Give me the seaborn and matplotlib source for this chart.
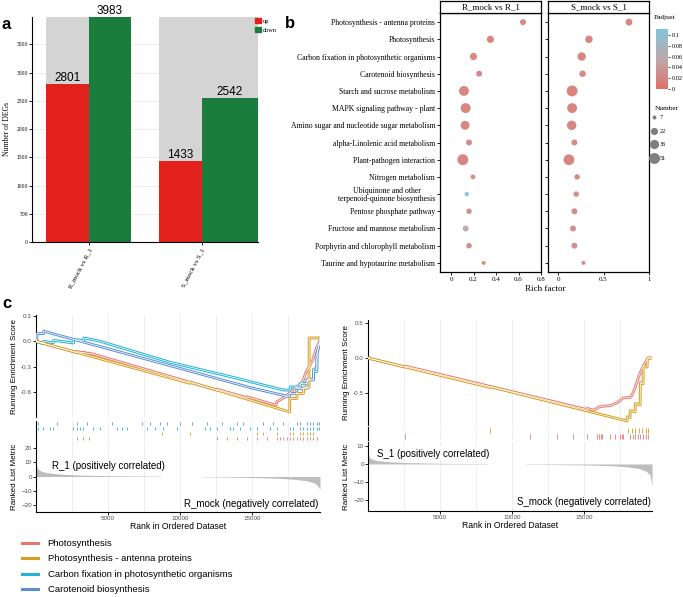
import numpy as np
import pandas as pd
import matplotlib
matplotlib.use("Agg")
import matplotlib.pyplot as plt
import seaborn as sns
from matplotlib.colors import LinearSegmentedColormap, Normalize
from matplotlib.cm import ScalarMappable
from matplotlib.patches import Patch
from matplotlib.lines import Line2D

# ---------------- data ----------------
deg_groups = ["R_mock vs R_1", "S_mock vs S_1"]
deg_up = [2801, 1433]
deg_down = [3983, 2542]

pathways = ["Photosynthesis - antenna proteins", "Photosynthesis",
            "Carbon fixation in photosynthetic organisms", "Carotenoid biosynthesis",
            "Starch and sucrose metabolism", "MAPK signaling pathway - plant",
            "Amino sugar and nucleotide sugar metabolism", "alpha-Linolenic acid metabolism",
            "Plant-pathogen interaction", "Nitrogen metabolism",
            "Ubiquinone and other\nterpenoid-quinone biosynthesis", "Pentose phosphate pathway",
            "Fructose and mannose metabolism", "Porphyrin and chlorophyll metabolism",
            "Taurine and hypotaurine metabolism"]
rich_R = [0.64, 0.35, 0.20, 0.25, 0.115, 0.13, 0.125, 0.16, 0.105, 0.195, 0.14, 0.16, 0.13, 0.16, 0.29]
rich_S = [0.78, 0.34, 0.26, 0.27, 0.155, 0.155, 0.15, 0.18, 0.12, 0.21, 0.20, 0.18, 0.165, 0.18, 0.28]
num_R = [15, 22, 22, 15, 42, 42, 34, 15, 51, 10, 8, 13, 15, 13, 6]
num_S = [20, 24, 30, 18, 51, 42, 38, 15, 50, 13, 13, 15, 15, 15, 6]
padj_R = [0.018, 0.015, 0.018, 0.02, 0.016, 0.015, 0.017, 0.022, 0.015, 0.024, 0.1, 0.026, 0.055, 0.025, 0.024]
padj_S = [0.016, 0.014, 0.015, 0.018, 0.013, 0.014, 0.014, 0.02, 0.015, 0.022, 0.024, 0.022, 0.026, 0.024, 0.022]
facet_titles = ["R_mock vs R_1", "S_mock vs S_1"]
number_levels = [7, 22, 36, 51]

gsea_names = ["Photosynthesis", "Photosynthesis - antenna proteins",
              "Carbon fixation in photosynthetic organisms", "Carotenoid biosynthesis"]
gsea_colors = ["#E8766F", "#D59E1C", "#22B2D6", "#5C8FD2"]
N_GENES = 19700

# left comparison (R_mock vs R_1): running enrichment score waypoints
L_photo_rank = [0, 2820, 2830, 3280, 3290, 3700, 3710, 12540, 12550, 14620, 14630, 16650, 16700, 17300, 17900, 18500, 18700, 19200, 19450, 19700]
L_photo_es = [0, -0.135, -0.12, -0.14, -0.13, -0.15, -0.14, -0.58, -0.57, -0.67, -0.66, -0.76, -0.72, -0.66, -0.57, -0.48, -0.38, -0.22, -0.08, 0]
L_ant_rank = [0, 10690, 10700, 17600, 17610, 18100, 18110, 18550, 18560, 18940, 18950, 19650, 19700]
L_ant_es = [0, -0.50, -0.485, -0.84, -0.68, -0.68, -0.62, -0.62, -0.55, -0.55, 0.04, 0.04, 0]
L_carb_rank = [0, 500, 520, 1200, 1220, 2600, 2620, 3300, 3320, 4450, 9300, 13700, 15300, 16700, 17200, 17640, 17650, 18330, 18340, 18800, 18810, 19250, 19260, 19480, 19490, 19700]
L_carb_es = [0, -0.03, 0.0, -0.02, 0.01, -0.02, 0.02, 0.01, 0.04, 0.0, -0.25, -0.43, -0.50, -0.56, -0.58, -0.58, -0.54, -0.55, -0.50, -0.50, -0.45, -0.45, -0.36, -0.36, -0.15, 0]
L_caro_rank = [0, 60, 70, 520, 530, 9300, 14850, 17600, 17610, 18090, 18100, 18790, 18800, 19250, 19260, 19480, 19490, 19700]
L_caro_es = [0, 0, 0.09, 0.09, 0.12, -0.29, -0.55, -0.66, -0.62, -0.62, -0.56, -0.56, -0.46, -0.46, -0.33, -0.33, -0.15, 0]

# right comparison (S_mock vs S_1)
S_photo_rank = [0, 2560, 2570, 15060, 15200, 15210, 15615, 15900, 16000, 16310, 16800, 17280, 17700, 18200, 18390, 18880, 19220, 19430, 19700]
S_photo_es = [0, -0.128, -0.115, -0.73, -0.74, -0.72, -0.745, -0.72, -0.70, -0.69, -0.68, -0.64, -0.57, -0.56, -0.50, -0.21, -0.07, 0.0, 0.0]
S_ant_rank = [0, 8460, 8470, 17975, 17985, 18180, 18190, 18530, 18540, 18880, 18890, 19085, 19095, 19360, 19370, 19430, 19700]
S_ant_es = [0, -0.42, -0.41, -0.90, -0.84, -0.85, -0.75, -0.77, -0.65, -0.67, -0.35, -0.37, -0.12, -0.13, -0.03, 0.0, 0.0]

# hit positions (rug)
L_hits_caro = [162, 1434, 2822, 3517, 5252, 7334, 7912, 8606, 9069, 9994, 10804, 11845, 12886, 13927, 14390, 15778, 16472, 17166, 18091, 18322, 18785, 19016, 19248, 19479, 19650]
L_hits_carb = [162, 509, 972, 1203, 2591, 2822, 3054, 3285, 3980, 4442, 5599, 5946, 6293, 7681, 8259, 8837, 9763, 11730, 12076, 12539, 13464, 13696, 14158, 14852, 15315, 16240, 16703, 17628, 17860, 18322, 18554, 18785, 19016, 19248, 19479, 19650]
L_hits_ant = [8721, 10688, 15315, 15778, 16703, 17628, 17860, 18322, 18554, 18785, 19016, 19248]
L_hits_photo = [2822, 3285, 3700, 12539, 13233, 13927, 14621, 15315, 16009, 16703, 16935, 17166, 17397, 17628, 17860, 18091, 18322, 18554, 18785, 19016, 19248, 19479]
S_hits_ant = [8467, 18040, 18280, 18530, 18780, 19030, 19250, 19430]
S_hits_photo = [2568, 11243, 13117, 14227, 15199, 15893, 16010, 16130, 16240, 16794, 17141, 17490, 17600, 17700, 18180, 18350, 18530, 18700, 18880, 19050, 19250, 19430]

# ranked list metric
L_metric_rank = [0, 100, 300, 700, 1500, 3000, 5000, 7000, 8700, 8710, 11500, 11510, 13500, 15500, 17000, 18000, 18800, 19300, 19550, 19700]
L_metric_val = [9, 5.5, 4, 2.8, 1.8, 1.0, 0.6, 0.35, 0.2, 0, 0, -0.2, -0.45, -0.8, -1.3, -2.0, -3.0, -4.5, -6.5, -9]
S_metric_rank = [0, 100, 300, 700, 1500, 3000, 5500, 8300, 8310, 10900, 10910, 13500, 15500, 17000, 18000, 18800, 19300, 19550, 19700]
S_metric_val = [5, 3.5, 2.6, 1.8, 1.2, 0.7, 0.35, 0.15, 0, 0, -0.15, -0.35, -0.6, -1.0, -1.6, -2.5, -4, -6, -12]

# ---------------- figure ----------------
W, H = 683, 597
fig = plt.figure(figsize=(W / 100, H / 100), dpi=100)
SERIF = "Liberation Serif"
SANS = "Liberation Sans"


def add_ax(x0, y0, x1, y1):
    return fig.add_axes([x0 / W, 1 - y1 / H, (x1 - x0) / W, (y1 - y0) / H])


def ftext(x, y, s, **kw):
    return fig.text(x / W, 1 - y / H, s, **kw)


# ---------- panel a ----------
axa = add_ax(32, 17, 258, 242)
ymax = max(deg_up + deg_down)
bg_left = [-0.376, 0.625]
bg_w = [0.748, 0.875]
up_w = [0.376, 0.375]
down_left = [0, 1]
down_w = [0.372, 0.5]
axa.bar(bg_left, [ymax] * 2, width=bg_w, align="edge", color="#d4d4d4", zorder=1)
axa.bar(bg_left, deg_up, width=up_w, align="edge", color="#E2211C", zorder=2)
axa.bar(down_left, deg_down, width=down_w, align="edge", color="#1B7D3D", zorder=2)
for i in range(2):
    axa.text(bg_left[i] + up_w[i] / 2, deg_up[i], str(deg_up[i]), ha="center", va="bottom",
             fontsize=8.5, family=SANS, clip_on=False)
    axa.text(down_left[i] + down_w[i] / 2, deg_down[i], str(deg_down[i]), ha="center", va="bottom",
             fontsize=8.5, family=SANS, clip_on=False)
axa.set_xlim(-0.5, 1.5)
axa.set_ylim(0, ymax)
axa.set_yticks(range(0, 4000, 500))
axa.yaxis.grid(True, color="#e4e4e4", lw=0.5)
axa.set_axisbelow(True)
axa.set_xticks([0, 1])
axa.set_xticklabels(deg_groups, rotation=62, ha="right", va="top", rotation_mode="anchor",
                    fontsize=5, family=SERIF)
for lab in axa.get_yticklabels():
    lab.set_family(SERIF)
axa.tick_params(axis="y", labelsize=4, length=2, width=0.6, pad=1)
axa.tick_params(axis="x", length=2, width=0.6, pad=2)
for s in ["top", "right"]:
    axa.spines[s].set_visible(False)
for s in ["left", "bottom"]:
    axa.spines[s].set_linewidth(0.8)
axa.set_ylabel("Number of DEGs", fontsize=5.5, family=SERIF, labelpad=4)
axa.legend(handles=[Patch(color="#E2211C", label="up"), Patch(color="#1B7D3D", label="down")],
           loc="upper left", frameon=False, prop={"family": SERIF, "size": 4.5}, handlelength=0.9,
           handleheight=0.9, handletextpad=0.4, labelspacing=0.5, borderaxespad=0, borderpad=0)
leg = axa.get_legend()
leg.set_bbox_to_anchor((255 / W, 1 - 18 / H), transform=fig.transFigure)

# ---------- panel b ----------
cmap = LinearSegmentedColormap.from_list("padj", ["#E0716A", "#BBA8AA", "#82C5D8"])
pnorm = Normalize(0, 0.111)
s_min, s_max = 8.5, 62
y_idx = np.arange(len(pathways))
facet_boxes = [(440, 541), (548, 649)]
facet_xlims = [(-0.098, 0.8), (-0.11, 1.0)]
facet_ticks = [[0, 0.2, 0.4, 0.6, 0.8], [0, 0.5, 1]]
facet_ticklabels = [["0", "0.2", "0.4", "0.6", "0.8"], ["0", "0.5", "1"]]
facet_data = [(rich_R, num_R, padj_R), (rich_S, num_S, padj_S)]
for k in range(2):
    x0, x1 = facet_boxes[k]
    ax = add_ax(x0, 13, x1, 272)
    rich, num, padj = facet_data[k]
    df = pd.DataFrame({"rich": rich, "y": y_idx, "num": num, "padj": padj})
    sns.scatterplot(data=df, x="rich", y="y", size="num", hue="padj", palette=cmap, hue_norm=pnorm,
                    sizes=(s_min, s_max), size_norm=(7, 51), linewidth=0, alpha=0.95,
                    legend=False, ax=ax, zorder=3)
    ax.set_xlim(*facet_xlims[k])
    ax.set_ylim(len(pathways) - 1 + 0.53, -0.53)
    ax.set_xticks(facet_ticks[k])
    ax.set_xticklabels(facet_ticklabels[k], fontsize=5, family=SERIF)
    ax.set_yticks(y_idx)
    if k == 0:
        ax.set_yticklabels(pathways, fontsize=5.6, family=SERIF, multialignment="center",
                           linespacing=1.05)
    else:
        ax.set_yticklabels([])
        ax.tick_params(axis="y", length=0)
    ax.tick_params(length=2, width=0.6, pad=1.5)
    ax.set_xlabel("")
    ax.set_ylabel("")
    for s in ax.spines.values():
        s.set_linewidth(0.9)
    sax = add_ax(x0, 1, x1, 13)
    sax.set_xticks([])
    sax.set_yticks([])
    for s in sax.spines.values():
        s.set_linewidth(0.9)
    sax.text(0.5, 0.45, facet_titles[k], ha="center", va="center", fontsize=6.5, family=SERIF,
             transform=sax.transAxes)
ftext(545, 289, "Rich factor", ha="center", va="center", fontsize=6.5, family=SERIF)

cax = add_ax(656, 29, 668, 89)
cb = fig.colorbar(ScalarMappable(norm=pnorm, cmap=cmap), cax=cax)
cb.set_ticks([0, 0.02, 0.04, 0.06, 0.08, 0.1])
cb.set_ticklabels(["0", "0.02", "0.04", "0.06", "0.08", "0.1"])
cb.outline.set_visible(False)
cax.tick_params(labelsize=4.5, length=1.5, width=0.5, pad=1)
for lab in cax.get_yticklabels():
    lab.set_family(SERIF)
ftext(654, 18, "Padjust", ha="left", va="center", fontsize=5.3, family=SERIF)


def size_of(n):
    return s_min + (n - 7) / (51 - 7) * (s_max - s_min)


size_handles = [Line2D([], [], ls="none", marker="o", markersize=np.sqrt(size_of(n)), color="#7f7f7f",
                       markeredgewidth=0) for n in number_levels]
fig.legend(size_handles, [str(n) for n in number_levels], loc="upper left",
           bbox_to_anchor=(651 / W, 1 - 115 / H), frameon=False, prop={"family": SERIF, "size": 4.6},
           handlelength=1.0, handletextpad=0.3, labelspacing=1.25, borderpad=0, borderaxespad=0)
ftext(655, 108, "Number", ha="left", va="center", fontsize=5.3, family=SERIF)

# ---------- panel c ----------
grid_pos = [2500, 5000, 7500, 10000, 12500, 15000, 17500]


def gsea_panel(xl, xr, top_y, rug_y, rank_y, curves, rug_rows, m_rank, m_val, es_lim, es_ticks,
               m_lim, m_ticks, pos_lab, neg_lab):
    ax1 = add_ax(xl, top_y[0], xr, top_y[1])
    ax2 = add_ax(xl, rug_y[0], xr, rug_y[1])
    ax3 = add_ax(xl, rank_y[0], xr, rank_y[1])
    for ax in (ax1, ax2, ax3):
        ax.set_xlim(0, N_GENES)
        for g in grid_pos:
            ax.axvline(g, color="#ebebeb", lw=0.6, zorder=0)
        for s in ["top", "right"]:
            ax.spines[s].set_visible(False)
        ax.spines["left"].set_linewidth(0.8)
        ax.patch.set_alpha(0)
    ax1.spines["bottom"].set_visible(False)
    ax1.set_xticks([])
    ax2.spines["bottom"].set_visible(False)
    ax2.set_xticks([])
    ax2.set_yticks([])
    for (r, e, c) in curves:
        sns.lineplot(x=r, y=e, ax=ax1, color=c, lw=2.0, sort=False, estimator=None, zorder=3)
    for (r, e, c) in curves:
        sns.lineplot(x=r, y=e, ax=ax1, color="white", lw=0.55, sort=False, estimator=None, zorder=4)
    ax1.set_ylim(*es_lim)
    ax1.set_yticks(es_ticks)
    ax1.set_yticklabels([f"{t:.1f}" for t in es_ticks])
    ax1.tick_params(axis="y", labelsize=4.5, length=2, width=0.6, pad=1, labelcolor="#4d4d4d")
    ax1.set_ylabel("Running Enrichment Score", fontsize=5.8, family=SANS)
    ax1.yaxis.set_label_coords(-0.063, 0.5)
    ax1.set_xlabel("")
    nrow = len(rug_rows)
    for i, (hits, c) in enumerate(rug_rows):
        ax2.vlines(hits, i + 0.15, i + 0.85, color=c, lw=0.6)
    ax2.set_ylim(nrow, 0)
    ax3.fill_between(m_rank, m_val, 0, color="#bdbdbd", lw=0, zorder=2)
    ax3.set_ylim(*m_lim)
    ax3.set_yticks(m_ticks)
    ax3.set_xticks([5000, 10000, 15000])
    ax3.tick_params(labelsize=4.5, length=2, width=0.6, pad=1, labelcolor="#4d4d4d")
    ax3.spines["bottom"].set_linewidth(0.8)
    ax3.set_ylabel("Ranked List Metric", fontsize=5.8, family=SANS)
    ax3.yaxis.set_label_coords(-0.063, 0.5)
    ax3.set_xlabel("Rank in Ordered Dataset", fontsize=6.2, family=SANS, va="top")
    ax3.xaxis.set_label_coords(0.5, -0.14)
    for lab in ax1.get_yticklabels() + ax3.get_yticklabels() + ax3.get_xticklabels():
        lab.set_family(SANS)
    ax3.text(pos_lab[0], pos_lab[1], pos_lab[2], transform=ax3.transAxes, ha="left", va="center",
             fontsize=7, family=SANS, zorder=5,
             bbox=dict(boxstyle="square,pad=0.15", fc="white", ec="none"))
    ax3.text(neg_lab[0], neg_lab[1], neg_lab[2], transform=ax3.transAxes, ha="right", va="center",
             fontsize=7, family=SANS, zorder=5,
             bbox=dict(boxstyle="square,pad=0.15", fc="white", ec="none"))


gsea_panel(36, 320, (315, 417), (421, 441), (442, 512),
           [(L_photo_rank, L_photo_es, gsea_colors[0]), (L_carb_rank, L_carb_es, gsea_colors[2]),
            (L_caro_rank, L_caro_es, gsea_colors[3]), (L_ant_rank, L_ant_es, gsea_colors[1])],
           [(L_hits_caro, gsea_colors[3]), (L_hits_carb, gsea_colors[2]),
            (L_hits_ant, gsea_colors[1]), (L_hits_photo, gsea_colors[0])],
           L_metric_rank, L_metric_val, (-0.9, 0.312), [0.3, 0.0, -0.3, -0.6],
           (-24.9, 24.2), [20, 10, 0, -10, -20],
           (0.056, 0.66, "R_1 (positively correlated)"),
           (0.993, 0.115, "R_mock (negatively correlated)"))

gsea_panel(368, 652, (320, 425), (427, 440), (442, 511),
           [(S_photo_rank, S_photo_es, gsea_colors[0]), (S_ant_rank, S_ant_es, gsea_colors[1])],
           [(S_hits_ant, gsea_colors[1]), (S_hits_photo, gsea_colors[0])],
           S_metric_rank, S_metric_val, (-0.957, 0.543), [0.5, 0.0, -0.5],
           (-26.1, 12.2), [10, 0, -10, -20],
           (0.03, 0.83, "S_1 (positively correlated)"),
           (0.995, 0.13, "S_mock (negatively correlated)"))

leg_handles = [Line2D([], [], color=c, lw=2.2) for c in gsea_colors]
fig.legend(leg_handles, gsea_names, loc="upper left", bbox_to_anchor=(22 / W, 1 - 539 / H),
           frameon=False, prop={"family": SANS, "size": 6.8}, handlelength=1.7, handletextpad=1.0,
           labelspacing=0.68, borderpad=0, borderaxespad=0)

ftext(1, 29, "a", fontsize=12, fontweight="bold", family=SANS, va="baseline")
ftext(285, 28, "b", fontsize=12, fontweight="bold", family=SANS, va="baseline")
ftext(2, 308, "c", fontsize=12, fontweight="bold", family=SANS, va="baseline")

fig.savefig("out.png", dpi=100)
